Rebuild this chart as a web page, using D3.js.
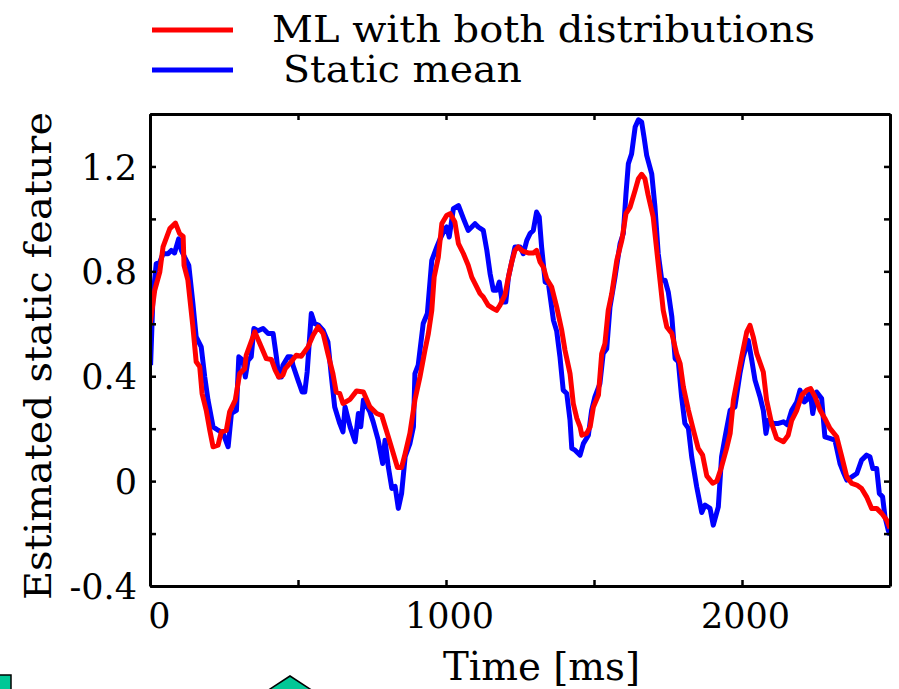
<!DOCTYPE html>
<html>
<head>
<meta charset="utf-8">
<script src="https://cdn.jsdelivr.net/npm/d3@7"></script>
<style>
  body { margin: 0; background: #fff; }
  svg { display: block; }
  text { font-family: "DejaVu Serif", serif; fill: #000; }
</style>
</head>
<body>
<div id="chart"></div>
<script>
// series names
var seriesNames = ["ML with both distributions", "Static mean"];

// ML with both distributions (red)
var mlTime = [0, 16, 33, 44, 67, 86, 100, 112, 115, 128, 145, 156, 168, 176, 190, 202, 213, 230, 241, 258, 269, 288, 303, 320, 325, 354, 371, 393, 410, 423, 435, 449, 457, 477, 494, 511, 534, 551, 568, 585, 601, 618, 629, 641, 652, 676, 698, 721, 743, 766, 783, 805, 822, 836, 850, 862, 878, 895, 912, 929, 940, 952, 960, 974, 986, 1002, 1014, 1030, 1042, 1059, 1075, 1087, 1104, 1115, 1126, 1143, 1160, 1171, 1182, 1199, 1211, 1222, 1233, 1244, 1259, 1278, 1295, 1306, 1318, 1329, 1340, 1357, 1374, 1391, 1402, 1419, 1430, 1442, 1453, 1459, 1475, 1487, 1498, 1515, 1526, 1537, 1548, 1560, 1577, 1594, 1608, 1622, 1639, 1650, 1661, 1672, 1683, 1700, 1712, 1723, 1734, 1746, 1763, 1779, 1791, 1802, 1819, 1836, 1852, 1867, 1881, 1901, 1915, 1931, 1948, 1960, 1971, 1988, 1999, 2016, 2027, 2038, 2050, 2072, 2083, 2100, 2117, 2140, 2156, 2168, 2185, 2202, 2219, 2232, 2247, 2264, 2280, 2297, 2320, 2337, 2354, 2371, 2388, 2404, 2421, 2438, 2455, 2472, 2489, 2500];
var mlValue = [0.594, 0.728, 0.797, 0.893, 0.963, 0.984, 0.944, 0.933, 0.823, 0.766, 0.588, 0.455, 0.436, 0.334, 0.270, 0.194, 0.131, 0.137, 0.188, 0.194, 0.264, 0.309, 0.410, 0.429, 0.480, 0.569, 0.525, 0.467, 0.464, 0.423, 0.397, 0.404, 0.429, 0.455, 0.480, 0.476, 0.512, 0.556, 0.588, 0.563, 0.486, 0.410, 0.340, 0.334, 0.296, 0.312, 0.344, 0.340, 0.283, 0.258, 0.250, 0.169, 0.105, 0.052, 0.052, 0.105, 0.182, 0.309, 0.397, 0.500, 0.560, 0.651, 0.778, 0.854, 0.982, 1.013, 1.020, 0.988, 0.906, 0.867, 0.823, 0.778, 0.740, 0.715, 0.702, 0.670, 0.658, 0.651, 0.670, 0.709, 0.778, 0.835, 0.880, 0.893, 0.877, 0.870, 0.870, 0.880, 0.835, 0.816, 0.772, 0.740, 0.664, 0.575, 0.499, 0.410, 0.296, 0.239, 0.207, 0.175, 0.182, 0.207, 0.283, 0.328, 0.486, 0.525, 0.651, 0.715, 0.842, 0.918, 1.020, 1.045, 1.109, 1.153, 1.170, 1.153, 1.090, 1.007, 0.880, 0.766, 0.651, 0.588, 0.563, 0.486, 0.448, 0.359, 0.270, 0.194, 0.125, 0.099, 0.020, -0.008, 0.000, 0.055, 0.125, 0.182, 0.309, 0.410, 0.474, 0.569, 0.594, 0.550, 0.486, 0.416, 0.309, 0.220, 0.163, 0.150, 0.175, 0.232, 0.270, 0.328, 0.347, 0.353, 0.321, 0.270, 0.239, 0.201, 0.169, 0.093, 0.016, -0.009, -0.015, -0.028, -0.060, -0.104, -0.104, -0.123, -0.149, -0.180];

// Static mean (blue)
var smTime = [2, 10, 21, 33, 44, 61, 72, 83, 97, 106, 117, 131, 145, 156, 173, 185, 196, 213, 230, 247, 264, 275, 292, 300, 314, 322, 331, 342, 351, 365, 382, 399, 416, 427, 435, 444, 449, 466, 477, 483, 500, 514, 523, 531, 545, 556, 570, 585, 601, 613, 624, 641, 652, 659, 676, 693, 704, 712, 721, 743, 754, 771, 786, 794, 805, 817, 828, 839, 850, 862, 878, 890, 895, 906, 923, 937, 952, 969, 980, 997, 1002, 1011, 1025, 1042, 1059, 1075, 1087, 1098, 1109, 1126, 1138, 1149, 1160, 1171, 1180, 1190, 1202, 1211, 1222, 1233, 1250, 1261, 1273, 1284, 1295, 1306, 1315, 1323, 1335, 1346, 1363, 1374, 1385, 1396, 1408, 1419, 1425, 1436, 1453, 1464, 1481, 1492, 1503, 1520, 1531, 1543, 1554, 1571, 1588, 1599, 1608, 1616, 1627, 1639, 1650, 1661, 1669, 1678, 1695, 1706, 1717, 1729, 1740, 1751, 1763, 1774, 1785, 1796, 1807, 1819, 1830, 1847, 1864, 1875, 1892, 1903, 1920, 1931, 1943, 1960, 1976, 1993, 2004, 2021, 2033, 2044, 2061, 2072, 2081, 2089, 2106, 2123, 2140, 2153, 2168, 2185, 2196, 2210, 2219, 2230, 2239, 2252, 2269, 2280, 2297, 2314, 2331, 2342, 2354, 2371, 2388, 2404, 2421, 2432, 2442, 2455, 2464, 2475, 2483, 2494, 2500];
var smValue = [0.442, 0.702, 0.829, 0.835, 0.867, 0.867, 0.880, 0.870, 0.924, 0.880, 0.854, 0.823, 0.677, 0.550, 0.512, 0.397, 0.309, 0.207, 0.194, 0.182, 0.131, 0.258, 0.270, 0.474, 0.461, 0.397, 0.460, 0.474, 0.582, 0.573, 0.582, 0.563, 0.563, 0.474, 0.397, 0.397, 0.442, 0.474, 0.474, 0.442, 0.385, 0.340, 0.340, 0.416, 0.639, 0.601, 0.594, 0.575, 0.531, 0.397, 0.283, 0.220, 0.188, 0.283, 0.207, 0.150, 0.258, 0.207, 0.309, 0.264, 0.226, 0.156, 0.067, 0.156, 0.055, -0.028, -0.020, -0.104, -0.047, 0.093, 0.143, 0.207, 0.410, 0.442, 0.601, 0.639, 0.842, 0.893, 0.924, 0.963, 0.969, 0.931, 1.039, 1.051, 1.001, 0.956, 0.969, 0.982, 0.969, 0.956, 0.880, 0.791, 0.728, 0.728, 0.759, 0.683, 0.683, 0.778, 0.835, 0.893, 0.893, 0.867, 0.918, 0.944, 0.956, 1.026, 1.007, 0.893, 0.759, 0.753, 0.613, 0.572, 0.474, 0.347, 0.334, 0.232, 0.125, 0.118, 0.099, 0.143, 0.175, 0.270, 0.321, 0.372, 0.486, 0.505, 0.664, 0.778, 0.905, 0.944, 1.095, 1.210, 1.248, 1.350, 1.378, 1.369, 1.312, 1.242, 1.172, 1.045, 0.867, 0.766, 0.766, 0.721, 0.626, 0.467, 0.455, 0.321, 0.220, 0.201, 0.093, -0.022, -0.120, -0.091, -0.104, -0.168, -0.098, 0.093, 0.169, 0.270, 0.283, 0.410, 0.474, 0.537, 0.461, 0.385, 0.321, 0.270, 0.182, 0.232, 0.220, 0.220, 0.226, 0.215, 0.270, 0.302, 0.347, 0.302, 0.310, 0.347, 0.258, 0.340, 0.315, 0.169, 0.163, 0.156, 0.067, 0.035, 0.004, 0.016, 0.029, 0.080, 0.099, 0.093, 0.048, 0.048, -0.047, -0.060, -0.136, -0.187, -0.206];

// axis ticks
var xTicks = [0, 500, 1000, 1500, 2000, 2500];
var xTickLabels = ["0", "", "1000", "", "2000", ""];
var yTicks = [-0.4, -0.2, 0, 0.2, 0.4, 0.6, 0.8, 1.0, 1.2, 1.4];
var yTickLabels = ["-0.4", "", "0", "", "0.4", "", "0.8", "", "1.2", ""];

var width = 899, height = 689;
var margin = {left: 150, right: 9, top: 114, bottom: 103};
var plotW = width - margin.left - margin.right;
var plotH = height - margin.top - margin.bottom;

var svg = d3.select("#chart").append("svg")
  .attr("width", width)
  .attr("height", height)
  .style("background", "#fff");

var x = d3.scaleLinear().domain([0, 2500]).range([margin.left, margin.left + plotW]);
var y = d3.scaleLinear().domain([-0.4, 1.4]).range([margin.top + plotH, margin.top]);

svg.append("clipPath").attr("id", "clip")
  .append("rect")
  .attr("x", margin.left).attr("y", margin.top)
  .attr("width", plotW).attr("height", plotH);

var line = d3.line()
  .x(function(d) { return x(d[0]); })
  .y(function(d) { return y(d[1]); });

var smData = d3.zip(smTime, smValue);
var mlData = d3.zip(mlTime, mlValue);

var lines = svg.append("g").attr("clip-path", "url(#clip)");
lines.append("path").datum(smData)
  .attr("d", line)
  .attr("fill", "none")
  .attr("stroke", "#0000ff")
  .attr("stroke-width", 5)
  .attr("stroke-linejoin", "round");
lines.append("path").datum(mlData)
  .attr("d", line)
  .attr("fill", "none")
  .attr("stroke", "#ff0000")
  .attr("stroke-width", 5)
  .attr("stroke-linejoin", "round");

// AXES (inward ticks on all four sides)
var tickLen = 6;
var bottomAxis = svg.append("g")
  .attr("transform", "translate(0," + (margin.top + plotH) + ")")
  .call(d3.axisBottom(x).tickValues(xTicks).tickSizeInner(-tickLen).tickSizeOuter(0)
    .tickFormat(function(d, i) { return xTickLabels[i]; }));
var topAxis = svg.append("g")
  .attr("transform", "translate(0," + margin.top + ")")
  .call(d3.axisTop(x).tickValues(xTicks).tickSizeInner(-tickLen).tickSizeOuter(0).tickFormat(""));
var leftAxis = svg.append("g")
  .attr("transform", "translate(" + margin.left + ",0)")
  .call(d3.axisLeft(y).tickValues(yTicks).tickSizeInner(-tickLen).tickSizeOuter(0)
    .tickFormat(function(d, i) { return yTickLabels[i]; }));
var rightAxis = svg.append("g")
  .attr("transform", "translate(" + (margin.left + plotW) + ",0)")
  .call(d3.axisRight(y).tickValues(yTicks).tickSizeInner(-tickLen).tickSizeOuter(0).tickFormat(""));

[bottomAxis, topAxis, leftAxis, rightAxis].forEach(function(g) {
  g.select(".domain").attr("stroke", "#000").attr("stroke-width", 3);
  g.selectAll(".tick line").attr("stroke", "#000").attr("stroke-width", 2.5);
  g.attr("font-family", null).attr("font-size", null);
  g.selectAll("text").attr("fill", "#000").style("font-size", "35px");
});
bottomAxis.selectAll(".tick text").attr("y", 17).attr("dy", "0.71em").attr("dx", 3);
bottomAxis.selectAll(".tick text").filter(function(d) { return d === 0; }).attr("dx", 9);
leftAxis.selectAll(".tick text").attr("x", -13).attr("dy", "0.36em");

// AXIS LABELS
svg.append("text")
  .attr("x", 443).attr("y", 680)
  .attr("textLength", 197).attr("lengthAdjust", "spacingAndGlyphs")
  .style("font-size", "39px")
  .text("Time [ms]");
svg.append("text")
  .attr("transform", "translate(51,600) rotate(-90)")
  .attr("textLength", 488).attr("lengthAdjust", "spacingAndGlyphs")
  .style("font-size", "38px")
  .text("Estimated static feature");

// LEGEND
var legend = svg.append("g");
var legendColors = ["#ff0000", "#0000ff"];
var legendY = [30, 70];
var legendTextX = [272, 283];
var legendTextW = [543, 239];
seriesNames.forEach(function(name, i) {
  legend.append("line")
    .attr("x1", 152).attr("x2", 233)
    .attr("y1", legendY[i]).attr("y2", legendY[i])
    .attr("stroke", legendColors[i]).attr("stroke-width", 5);
  legend.append("text")
    .attr("x", legendTextX[i]).attr("y", legendY[i] + 12)
    .attr("textLength", legendTextW[i]).attr("lengthAdjust", "spacingAndGlyphs")
    .style("font-size", "38px")
    .text(name);
});

// cut-off slide shapes at the bottom edge
svg.append("polygon")
  .attr("points", "-2,675 11,675 11,691 -2,691")
  .attr("fill", "#00c896").attr("stroke", "#000").attr("stroke-width", 1.5);
svg.append("polygon")
  .attr("points", "290,676 267,691 313,691")
  .attr("fill", "#00c896").attr("stroke", "#000").attr("stroke-width", 1.5);
</script>
</body>
</html>
